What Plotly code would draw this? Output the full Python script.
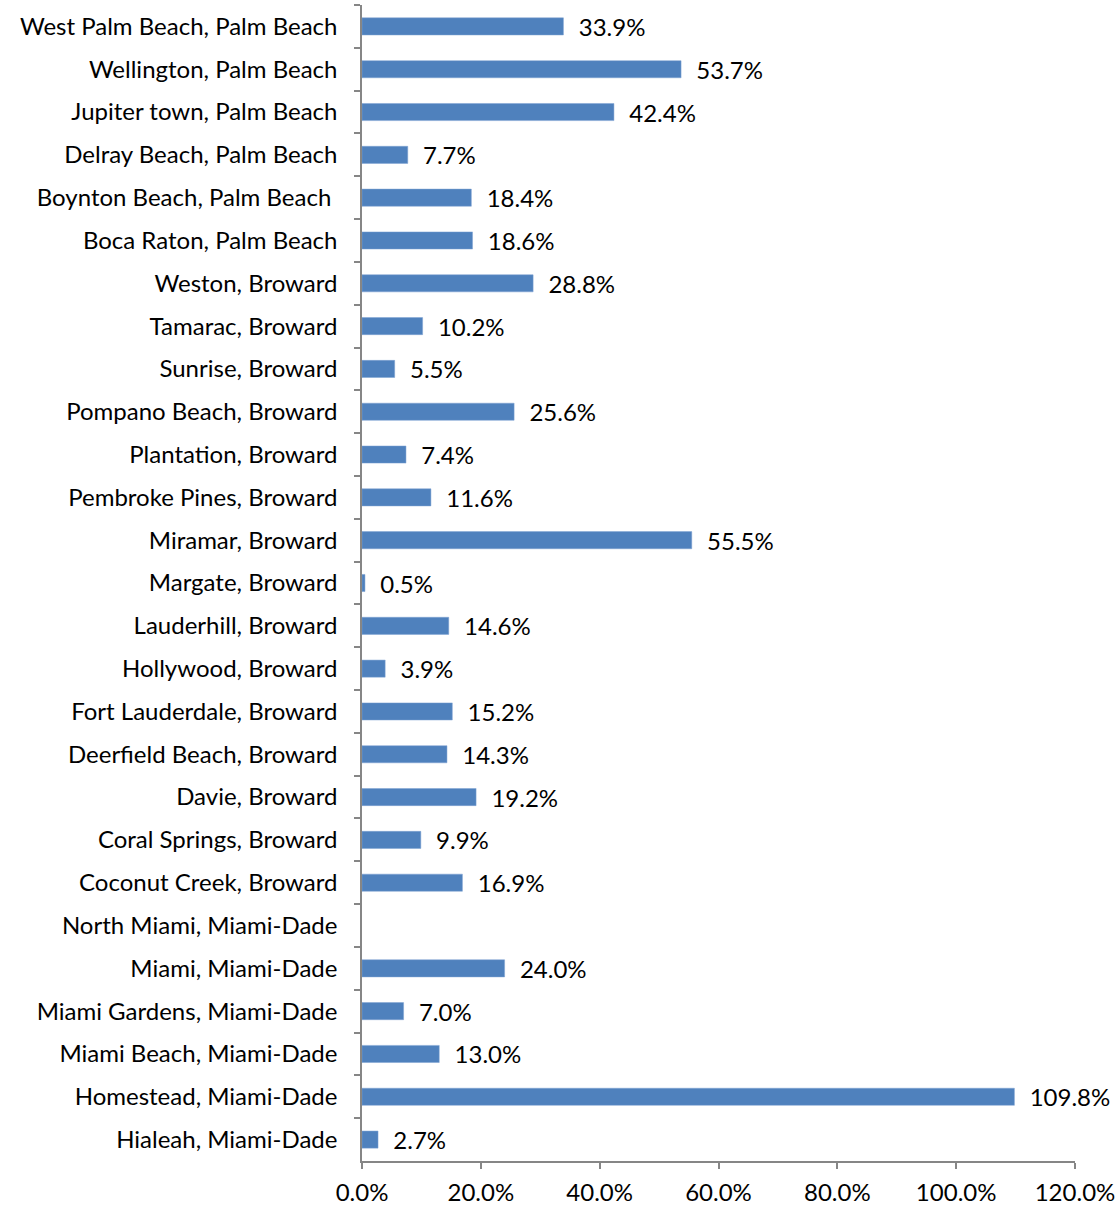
import plotly.graph_objects as go

cities = [
    "West Palm Beach, Palm Beach", "Wellington, Palm Beach", "Jupiter town, Palm Beach",
    "Delray Beach, Palm Beach", "Boynton Beach, Palm Beach\u00a0", "Boca Raton, Palm Beach",
    "Weston, Broward", "Tamarac, Broward", "Sunrise, Broward", "Pompano Beach, Broward",
    "Plantation, Broward", "Pembroke Pines, Broward", "Miramar, Broward", "Margate, Broward",
    "Lauderhill, Broward", "Hollywood, Broward", "Fort Lauderdale, Broward",
    "Deerfield Beach, Broward", "Davie, Broward", "Coral Springs, Broward",
    "Coconut Creek, Broward", "North Miami, Miami-Dade", "Miami, Miami-Dade",
    "Miami Gardens, Miami-Dade", "Miami Beach, Miami-Dade", "Homestead, Miami-Dade",
    "Hialeah, Miami-Dade",
]
values = [33.9, 53.7, 42.4, 7.7, 18.4, 18.6, 28.8, 10.2, 5.5, 25.6, 7.4, 11.6, 55.5, 0.5,
          14.6, 3.9, 15.2, 14.3, 19.2, 9.9, 16.9, None, 24.0, 7.0, 13.0, 109.8, 2.7]
x_ticks = [0, 20, 40, 60, 80, 100, 120]
x_tick_labels = ["0.0%", "20.0%", "40.0%", "60.0%", "80.0%", "100.0%", "120.0%"]

labels = ["" if v is None else "\u00a0\u00a0%.1f%%" % v for v in values]

FONT = "Lato, 'Open Sans', sans-serif"
FS = 24

fig = go.Figure(go.Bar(
    x=values, y=cities, orientation="h",
    marker=dict(color="#4F81BD", line=dict(color="#7FA3D3", width=0.5)),
    width=0.4,
    text=labels, textposition="outside", cliponaxis=False, constraintext="none",
    textfont=dict(family=FONT, size=FS, color="black"),
))

fig.update_layout(
    width=1120, height=1211,
    margin=dict(l=362, r=45, t=5, b=48),
    paper_bgcolor="white", plot_bgcolor="white",
    showlegend=False,
    font=dict(family=FONT, size=FS, color="black"),
    xaxis=dict(range=[0, 120], tickvals=x_ticks, ticktext=x_tick_labels,
               showgrid=False, zeroline=False, showline=True, linecolor="#868686",
               linewidth=1.5, ticks="outside", ticklen=6, tickcolor="#868686", tickwidth=1.5,
               ticklabelstandoff=3,
               tickfont=dict(family=FONT, size=FS, color="black")),
    yaxis=dict(autorange="reversed", type="category", showgrid=False, zeroline=False,
               showline=True, linecolor="#868686", linewidth=1.5,
               ticks="outside", ticklen=6, tickcolor="#868686", tickwidth=1.5,
               tickson="boundaries", ticklabelstandoff=18,
               tickfont=dict(family=FONT, size=FS, color="black")),
)

fig.write_html("out.html")
